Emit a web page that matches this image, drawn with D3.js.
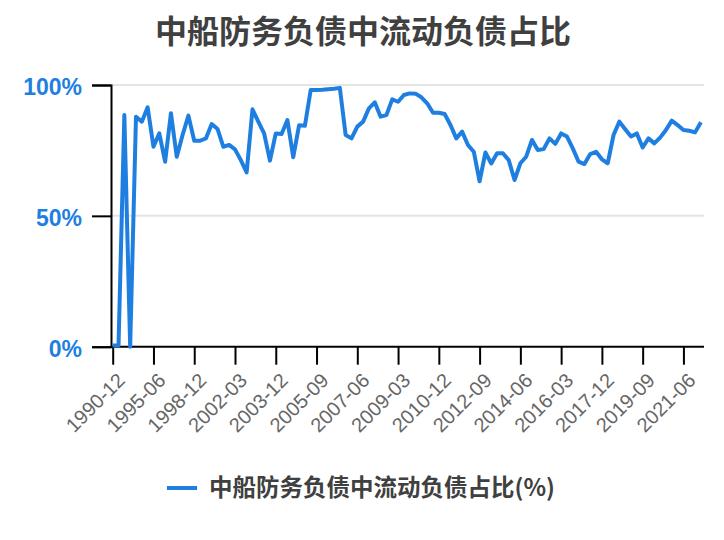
<!DOCTYPE html>
<html>
<head>
<meta charset="utf-8">
<script src="https://cdn.jsdelivr.net/npm/d3@7"></script>
<style>
  body { margin: 0; background: #fff; }
  svg { display: block; }
</style>
</head>
<body>
<svg></svg>
<script>
const size = {w: 724, h: 540};
const svg = d3.select('svg');

svg.attr('width', size.w)
    .attr('height', size.h);

// report dates (categories)
const dates = [
    '1990-12', '1991-12', '1992-12', '1993-06', '1993-12', '1994-06', '1994-12',
    '1995-06', '1995-12', '1996-06', '1996-12', '1997-06', '1997-12', '1998-06',
    '1998-12', '1999-06', '1999-12', '2000-06', '2000-12', '2001-06', '2001-12',
    '2002-03', '2002-06', '2002-09', '2002-12', '2003-03', '2003-06', '2003-09',
    '2003-12', '2004-03', '2004-06', '2004-09', '2004-12', '2005-03', '2005-06',
    '2005-09', '2005-12', '2006-03', '2006-06', '2006-09', '2006-12', '2007-03',
    '2007-06', '2007-09', '2007-12', '2008-03', '2008-06', '2008-09', '2008-12',
    '2009-03', '2009-06', '2009-09', '2009-12', '2010-03', '2010-06', '2010-09',
    '2010-12', '2011-03', '2011-06', '2011-09', '2011-12', '2012-03', '2012-06',
    '2012-09', '2012-12', '2013-03', '2013-06', '2013-09', '2013-12', '2014-03',
    '2014-06', '2014-09', '2014-12', '2015-03', '2015-06', '2015-09', '2015-12',
    '2016-03', '2016-06', '2016-09', '2016-12', '2017-03', '2017-06', '2017-09',
    '2017-12', '2018-03', '2018-06', '2018-09', '2018-12', '2019-03', '2019-06',
    '2019-09', '2019-12', '2020-03', '2020-06', '2020-09', '2020-12', '2021-03',
    '2021-06', '2021-09', '2021-12', '2022-03'
];

// 流动负债占比 (%)
const ratio = [
    0.5, 0.5, 88.5, 0, 87.9, 86, 91.5,
    76.4, 81.5, 70.7, 89.2, 72.6, 80.9, 88.3,
    78.7, 78.7, 79.6, 85.1, 83.2, 76.4, 77.1,
    75.4, 71.3, 66.6, 90.7, 86, 81.5, 71.1,
    81.5, 81.3, 86.6, 72.4, 84.6, 84.4, 98.1,
    98.1, 98.2, 98.4, 98.6, 98.9, 80.9, 79.6,
    84.1, 86, 91.1, 93.4, 87.9, 88.5, 94.5,
    93.6, 96.2, 96.8, 96.7, 95.3, 93, 89.4,
    89.4, 88.9, 84.7, 79.6, 82.2, 77.1, 74.5,
    63.2, 74.2, 70, 73.9, 73.9, 71.3, 63.7,
    70.1, 72.6, 79, 75.2, 75.5, 79.6, 77.5,
    81.5, 80.3, 75.8, 70.7, 69.8, 73.6, 74.5,
    71.6, 70.1, 80.9, 86, 83.1, 80.3, 81.5,
    76.1, 79.6, 77.7, 79.9, 82.8, 86.4, 84.7,
    82.8, 82.5, 81.9, 85.8
];

const yTicks = [0, 50, 100];
const titleText = '中船防务负债中流动负债占比';
const seriesName = '中船防务负债中流动负债占比(%)';

const lineColor = '#1f7fe1';
const cjk = '"Noto Sans CJK SC", "Noto Sans", sans-serif';
const latin = '"Liberation Sans", Arial, sans-serif';

let x = d3.scalePoint()
    .domain(dates)
    .range([112.7, 700.9]);

let y = d3.scaleLinear()
    .domain([0, 100])
    .range([346.7, 85]);

// title
svg.append('text')
    .attr('x', 363)
    .attr('y', 43)
    .attr('text-anchor', 'middle')
    .style('font-family', cjk)
    .style('font-weight', 'bold')
    .style('font-size', '32px')
    .style('fill', '#404040')
    .text(titleText);

// grid lines
svg.append('g')
    .selectAll('line')
    .data(yTicks.filter(d => d > 0))
    .enter()
    .append('line')
    .attr('x1', 111)
    .attr('x2', 704)
    .attr('y1', d => y(d))
    .attr('y2', d => y(d))
    .style('stroke', '#e4e4e4')
    .style('stroke-width', 2);

// y axis
let yAxis = svg.append('g')
    .attr('transform', 'translate(111,0)')
    .call(d3.axisLeft(y)
        .tickValues(yTicks)
        .tickSize(19)
        .tickPadding(10)
        .tickFormat(d => d + '%'));

yAxis.selectAll('path, line')
    .style('stroke', '#000')
    .style('stroke-width', 2);
yAxis.selectAll('text')
    .attr('dy', '0.42em')
    .style('font-family', latin)
    .style('font-weight', 'bold')
    .style('font-size', '23px')
    .style('fill', lineColor);

// x axis, a label every 7 periods
let xAxis = svg.append('g')
    .attr('transform', 'translate(0,' + y(0) + ')')
    .call(d3.axisBottom(x)
        .tickValues(dates.filter((d, i) => i % 7 === 0 && i <= 98))
        .tickSize(18)
        .tickSizeOuter(0));

xAxis.select('.domain')
    .attr('d', 'M111,0H704');
xAxis.selectAll('path, line')
    .style('stroke', '#000')
    .style('stroke-width', 2);
xAxis.selectAll('text')
    .attr('x', 0)
    .attr('y', 0)
    .attr('dy', '0.35em')
    .attr('text-anchor', 'end')
    .attr('transform', 'translate(8,30) rotate(-45)')
    .style('font-family', latin)
    .style('font-size', '20px')
    .style('fill', '#666');

// the series
let line = d3.line()
    .x((d, i) => x(dates[i]))
    .y(d => y(d));

svg.append('path')
    .datum(ratio)
    .attr('d', line)
    .style('fill', 'none')
    .style('stroke', lineColor)
    .style('stroke-width', 4)
    .style('stroke-linejoin', 'round');

// legend
let legend = svg.append('g');
legend.append('line')
    .attr('x1', 167)
    .attr('x2', 197)
    .attr('y1', 488)
    .attr('y2', 488)
    .style('stroke', lineColor)
    .style('stroke-width', 4);
legend.append('text')
    .attr('x', 209)
    .attr('y', 496)
    .style('font-family', cjk)
    .style('font-weight', 'bold')
    .style('font-size', '23.5px')
    .style('fill', '#404040')
    .text(seriesName);
</script>
</body>
</html>
